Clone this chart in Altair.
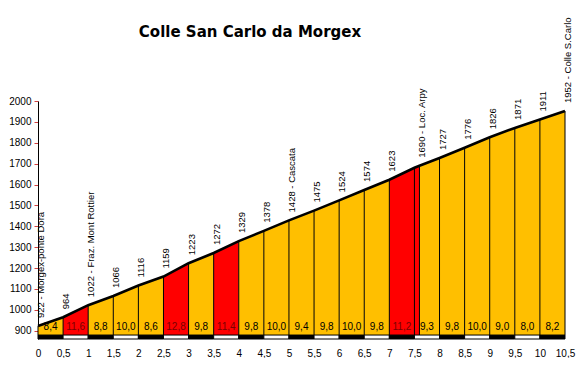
import altair as alt
import pandas as pd

# ---- data ----
km = [0, 0.5, 1, 1.5, 2, 2.5, 3, 3.5, 4, 4.5, 5, 5.5, 6, 6.5, 7, 7.5, 7.6,
      8, 8.5, 9, 9.5, 10, 10.5]
elev = [922, 964, 1022, 1066, 1116, 1159, 1223, 1272, 1329, 1378, 1428, 1475,
        1524, 1574, 1623, 1680, 1690, 1727, 1776, 1826, 1871, 1911, 1952]
point_labels = ["922 - Morgex-ponte Dora", "964", "1022 - Fraz. Mont Rottier",
                "1066", "1116", "1159", "1223", "1272", "1329", "1378",
                "1428 - Cascata", "1475", "1524", "1574", "1623", "",
                "1690 - Loc. Arpy", "1727", "1776", "1826", "1871", "1911",
                "1952 - Colle S.Carlo"]
# segments between consecutive points that are drawn in red
steep = [False, True, False, False, False, True, False, True, False, False,
         False, False, False, False, True, True, False, False, False, False,
         False, False]
grad_mid = [0.25, 0.75, 1.25, 1.75, 2.25, 2.75, 3.25, 3.75, 4.25, 4.75, 5.25,
            5.75, 6.25, 6.75, 7.25, 7.75, 8.25, 8.75, 9.25, 9.75, 10.25]
grad_text = ["8,4", "11,6", "8,8", "10,0", "8,6", "12,8", "9,8", "11,4", "9,8",
             "10,0", "9,4", "9,8", "10,0", "9,8", "11,2", "9,3", "9,8", "10,0",
             "9,0", "8,0", "8,2"]
grad_steep = [False, True, False, False, False, True, False, True, False,
              False, False, False, False, False, True, False, False, False,
              False, False, False]
x_ticks = [0, 0.5, 1, 1.5, 2, 2.5, 3, 3.5, 4, 4.5, 5, 5.5, 6, 6.5, 7, 7.5, 8,
           8.5, 9, 9.5, 10, 10.5]
y_ticks = [900, 1000, 1100, 1200, 1300, 1400, 1500, 1600, 1700, 1800, 1900, 2000]
title_text = "Colle San Carlo da Morgex"

# ---- style constants ----
Y_MIN, Y_MAX = 860, 2000
BASE = 879          # bottom of the coloured profile / top of km strip
ORANGE = "#FFBF00"
RED = "#FF0000"
FONT = "Liberation Sans"

xs = alt.Scale(domain=[0, 10.5], nice=False, zero=False)
ys = alt.Scale(domain=[Y_MIN, Y_MAX], nice=False, zero=False)

# area polygons per segment
rows = []
for i in range(len(km) - 1):
    c = RED if steep[i] else ORANGE
    rows.append({"seg": i, "km": km[i], "elev": elev[i], "col": c})
    rows.append({"seg": i, "km": km[i + 1], "elev": elev[i + 1], "col": c})
seg_df = pd.DataFrame(rows)
seg_df["base"] = BASE

pts = pd.DataFrame({"km": km, "elev": elev, "label": point_labels})
pts["base"] = BASE

strip_rows = []
for i in range(len(x_ticks) - 1):
    strip_rows.append({"km": x_ticks[i], "b": x_ticks[i + 1],
                       "col": "#000000" if i % 2 == 0 else "#FFFFFF"})
strip = pd.DataFrame(strip_rows)
strip["elev"] = Y_MIN
strip["hi"] = BASE

grads = pd.DataFrame({"km": grad_mid, "t": grad_text,
                      "tc": ["#7A0000" if s else "#000000" for s in grad_steep]})
grads["elev"] = 900

x_axis = alt.Axis(values=x_ticks, title=None, grid=False, domain=False,
                  ticks=False, labelPadding=9, labelFontSize=10,
                  labelFont=FONT, labelColor="#000", labelOverlap=False,
                  labelFlush=False,
                  labelExpr="replace(toString(datum.value), '.', ',')")
y_axis = alt.Axis(values=y_ticks, title=None, grid=False, domainColor="#000",
                  domainWidth=1, tickColor="#D04040", tickSize=4,
                  labelPadding=3, labelFontSize=10, labelFont=FONT,
                  labelColor="#000", labelOverlap=False, labelFlush=False,
                  format="d")

X = alt.X("km:Q", scale=xs, axis=x_axis)
Y = alt.Y("elev:Q", scale=ys, axis=y_axis)

area = alt.Chart(seg_df).mark_area(opacity=1, strokeWidth=0).encode(
    x=X, y=Y, y2="base:Q",
    color=alt.Color("col:N", scale=None),
    detail="seg:N",
)

rules = alt.Chart(pts).mark_rule(color="#000", strokeWidth=1).encode(
    x=X, y=Y, y2="base:Q")

line = alt.Chart(pts).mark_line(color="#000", strokeWidth=2.6).encode(
    x=X, y=Y)

strip_m = alt.Chart(strip).mark_rect(stroke="#000", strokeWidth=1).encode(
    x=X, x2="b:Q", y=Y, y2="hi:Q",
    fill=alt.Color("col:N", scale=None))

grad_t = alt.Chart(grads).mark_text(
    font=FONT, fontSize=10, baseline="alphabetic", align="center",
    dy=-1).encode(x=X, y=Y, text="t:N",
                  color=alt.Color("tc:N", scale=None))

pt_t = alt.Chart(pts).mark_text(
    font=FONT, fontSize=9.5, angle=270, align="left", baseline="middle",
    dx=8, dy=3, color="#000").encode(x=X, y=Y, text="label:N")

title_m = alt.Chart(pd.DataFrame({"t": [title_text]})).mark_text(
    font="DejaVu Sans", fontSize=15, fontWeight="bold", color="#000",
    align="center", baseline="alphabetic").encode(
    x=alt.value(212), y=alt.value(-64), text="t:N")

chart = alt.layer(area, rules, line, strip_m, grad_t, pt_t, title_m).properties(
    width=527, height=238,
    autosize=alt.AutoSizeParams(type="none"),
    padding={"left": 30, "top": 93, "right": 15, "bottom": 19},
    background="#FFFFFF",
).configure_view(stroke=None)

chart.save("out.html", embed_options={"renderer": "svg", "actions": False})
